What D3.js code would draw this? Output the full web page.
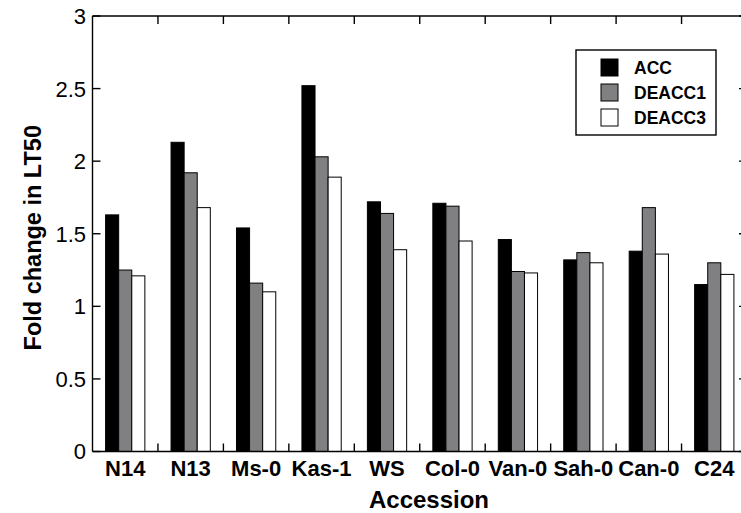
<!DOCTYPE html>
<html>
<head>
<meta charset="utf-8">
<script src="https://cdn.jsdelivr.net/npm/d3@7/dist/d3.min.js"></script>
<style>
  html, body { margin: 0; padding: 0; background: #fff; }
  svg { display: block; }
  text { font-family: "Liberation Sans", Arial, Helvetica, sans-serif; }
</style>
</head>
<body>
<svg id="chart" width="741" height="513"></svg>
<script>
const categories = ["N14", "N13", "Ms-0", "Kas-1", "WS", "Col-0", "Van-0", "Sah-0", "Can-0", "C24"];
const seriesNames = ["ACC", "DEACC1", "DEACC3"];
const accValues    = [1.63, 2.13, 1.54, 2.52, 1.72, 1.71, 1.46, 1.32, 1.38, 1.15];
const deacc1Values = [1.25, 1.92, 1.16, 2.03, 1.64, 1.69, 1.24, 1.37, 1.68, 1.30];
const deacc3Values = [1.21, 1.68, 1.10, 1.89, 1.39, 1.45, 1.23, 1.30, 1.36, 1.22];
const yTicks = [0, 0.5, 1, 1.5, 2, 2.5, 3];
const yTickLabels = ["0", "0.5", "1", "1.5", "2", "2.5", "3"];
const xTitle = "Accession";
const yTitle = "Fold change in LT50";

(function () {
const seriesValues = [accValues, deacc1Values, deacc3Values];
const fills = ["#000000", "#808083", "#ffffff"];

const svg = d3.select("#chart");
const pL = 92.5, pR = 747, pT = 16, pB = 451.5;

const x = d3.scaleBand().domain(categories).range([pL, pR]).paddingInner(0.4).paddingOuter(0.2);
const xSub = d3.scaleBand().domain(seriesNames).range([0, x.bandwidth()]);
const y = d3.scaleLinear().domain([0, 3]).range([pB, pT]);

// bars
categories.forEach((c, i) => {
  seriesNames.forEach((s, j) => {
    const v = seriesValues[j][i];
    svg.append("rect")
      .attr("x", x(c) + xSub(s))
      .attr("y", y(v))
      .attr("width", xSub.bandwidth())
      .attr("height", y(0) - y(v))
      .attr("fill", fills[j])
      .attr("stroke", "#000")
      .attr("stroke-width", 1);
  });
});

const boundaries = categories.slice(1).map(c => x(c) - x.step() * x.paddingInner() / 2);
const tickLen = 8;
const frame = svg.append("g").attr("stroke", "#000").attr("stroke-width", 1.4).attr("fill", "none");
frame.append("line").attr("x1", pL).attr("x2", pR).attr("y1", pB).attr("y2", pB);
frame.append("line").attr("x1", pL).attr("x2", pR).attr("y1", pT).attr("y2", pT);
frame.append("line").attr("x1", pL).attr("x2", pL).attr("y1", pT).attr("y2", pB);
frame.append("line").attr("x1", pR).attr("x2", pR).attr("y1", pT).attr("y2", pB);

yTicks.forEach(t => {
  frame.append("line").attr("x1", pL).attr("x2", pL + tickLen).attr("y1", y(t)).attr("y2", y(t));
  frame.append("line").attr("x1", pR).attr("x2", pR - tickLen).attr("y1", y(t)).attr("y2", y(t));
});
boundaries.forEach(b => {
  frame.append("line").attr("x1", b).attr("x2", b).attr("y1", pB).attr("y2", pB - tickLen);
  frame.append("line").attr("x1", b).attr("x2", b).attr("y1", pT).attr("y2", pT + tickLen);
});

yTicks.forEach((t, i) => {
  svg.append("text")
    .attr("x", 86).attr("y", y(t))
    .attr("dy", "0.36em")
    .attr("text-anchor", "end")
    .attr("font-size", 22)
    .attr("fill", "#000")
    .text(yTickLabels[i]);
});

categories.forEach(c => {
  svg.append("text")
    .attr("x", x(c) + x.bandwidth() / 2)
    .attr("y", 476)
    .attr("text-anchor", "middle")
    .attr("font-size", 22)
    .attr("font-weight", "bold")
    .attr("fill", "#000")
    .text(c);
});

svg.append("text")
  .attr("x", 429).attr("y", 508)
  .attr("text-anchor", "middle")
  .attr("font-size", 24).attr("font-weight", "bold")
  .text(xTitle);

svg.append("text")
  .attr("transform", `translate(41, ${(pT + pB) / 2 + 4}) rotate(-90)`)
  .attr("text-anchor", "middle")
  .attr("font-size", 23.5).attr("font-weight", "bold")
  .text(yTitle);

const lg = svg.append("g").attr("transform", "translate(576,50)");
lg.append("rect").attr("width", 140).attr("height", 85)
  .attr("fill", "#fff").attr("stroke", "#000").attr("stroke-width", 1.4);
seriesNames.forEach((s, j) => {
  const yy = 9 + j * 25;
  lg.append("rect").attr("x", 25).attr("y", yy).attr("width", 17).attr("height", 17)
    .attr("fill", fills[j]).attr("stroke", "#000").attr("stroke-width", 1);
  lg.append("text").attr("x", 58).attr("y", yy + 8.5).attr("dy", "0.36em")
    .attr("font-size", 17.5).attr("font-weight", "bold").text(s);
});
})();
</script>
</body>
</html>
